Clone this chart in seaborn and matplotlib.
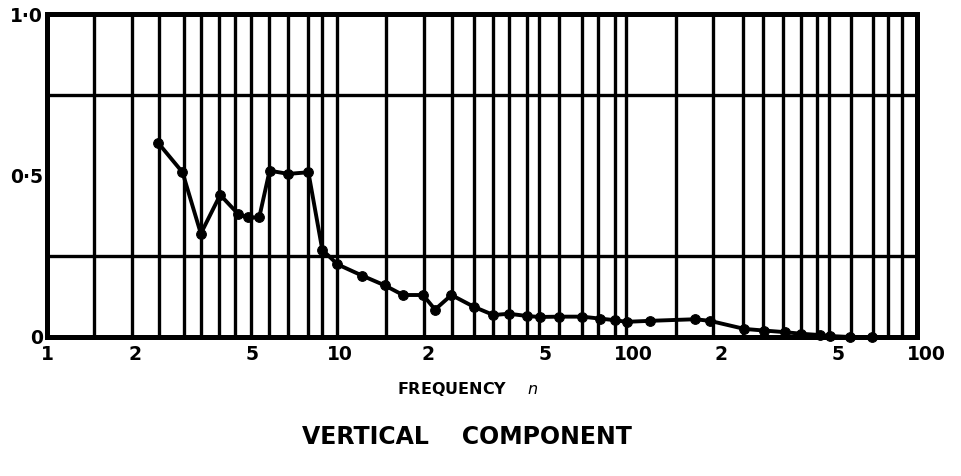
import matplotlib
matplotlib.use("Agg")
import matplotlib.pyplot as plt
from matplotlib.ticker import NullFormatter
import pandas as pd
import seaborn as sns

# ---- data ----
freq = [2.4, 2.9, 3.35, 3.9, 4.5, 4.85, 5.3, 5.75, 6.65, 7.8, 8.7, 9.8, 11.9,
        14.2, 16.4, 19.2, 21.1, 24, 28.7, 33.4, 37.7, 43.5, 48, 56, 67, 77, 87,
        95, 114, 163, 183, 240, 280, 330, 375, 435, 470, 550, 655]
resp = [0.60, 0.51, 0.32, 0.44, 0.38, 0.37, 0.37, 0.515, 0.505, 0.51, 0.27,
        0.225, 0.19, 0.16, 0.13, 0.13, 0.085, 0.13, 0.093, 0.068, 0.072, 0.065,
        0.062, 0.063, 0.063, 0.057, 0.052, 0.047, 0.05, 0.055, 0.05, 0.025,
        0.02, 0.015, 0.01, 0.006, 0.003, 0.0, 0.0]

# vertical ruling of the original chart paper (frequencies)
grid_freqs = [1.45, 1.95, 2.41, 2.94, 3.35, 3.87, 4.38, 4.95, 5.74, 6.67, 7.8,
              8.71, 9.77, 14.4, 19.3, 24.05, 28.7, 33.4, 37.7, 43.3, 47.7, 55.9,
              66.8, 76.1, 86.8, 94.3, 140, 187, 238, 277, 324, 374, 424, 467,
              555, 660, 742, 828]
x_tick_vals = [1, 2, 5, 10, 20, 50, 100, 200, 500]
x_tick_labels = ["1", "2", "5", "10", "2", "5", "100", "2", "5"]
x_end_val = 1000
x_end_label = "100"
y_tick_vals = [0, 0.5, 1.0]
y_tick_labels = ["0", "0·5", "1·0"]
y_grid_vals = [0.25, 0.5, 0.75]

sns.set_style("white")
plt.rcParams["font.family"] = ["DejaVu Sans"]
plt.rcParams["text.color"] = "black"
plt.rcParams["xtick.color"] = "black"
plt.rcParams["ytick.color"] = "black"
plt.rcParams["axes.labelcolor"] = "black"

W, H = 962, 476
fig = plt.figure(figsize=(W / 100, H / 100), dpi=100)
L, R, T, B = 47, 917.5, 14, 337
ax = fig.add_axes([L / W, 1 - B / H, (R - L) / W, (B - T) / H])

df = pd.DataFrame({"freq": freq, "resp": resp})
sns.lineplot(data=df, x="freq", y="resp", ax=ax, color="black", lw=2.8,
             marker="o", markersize=7, markeredgecolor="black",
             markerfacecolor="black", estimator=None, zorder=5, clip_on=False)

ax.set_xscale("log")
ax.set_xlim(1, 935)
ax.set_ylim(0, 1)

tick_font = dict(fontsize=13.5, fontweight="bold", color="black")
ax.set_xticks(x_tick_vals, labels=x_tick_labels, **tick_font)
ax.set_xticks(grid_freqs, minor=True)
ax.xaxis.set_minor_formatter(NullFormatter())
ax.set_yticks(y_tick_vals, labels=y_tick_labels, **tick_font)
ax.set_yticks(y_grid_vals, minor=True)
ax.yaxis.set_minor_formatter(NullFormatter())

ax.grid(False, which="major")
ax.grid(True, which="minor", color="black", lw=2.4)
ax.set_axisbelow(True)
ax.tick_params(which="both", length=0)
ax.tick_params(axis="x", pad=6)
ax.tick_params(axis="y", pad=3)

ax.annotate(x_end_label, xy=(x_end_val, 0), xycoords=("data", "axes fraction"),
            xytext=(0, -6), textcoords="offset points",
            ha="center", va="top", annotation_clip=False, **tick_font)

for s in ax.spines.values():
    s.set_visible(True)
    s.set_color("black")
    s.set_linewidth(3.6)

ax.set_xlabel("FREQUENCY    $n$", fontsize=11.5, fontweight="bold", color="black")
ax.set_ylabel("")
ax.xaxis.set_label_coords((468 - L) / (R - L), (B - 380) / (B - T))

fig.text(467 / W, 1 - 437 / H, "VERTICAL    COMPONENT", ha="center",
         va="center", fontsize=17, fontweight="bold", color="black")

fig.savefig("out.png", dpi=100)
